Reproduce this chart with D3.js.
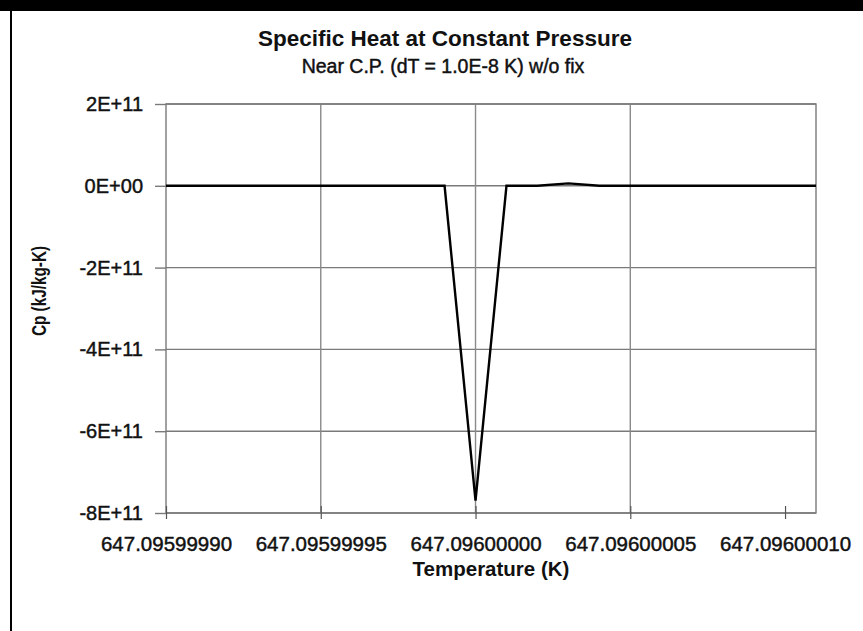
<!DOCTYPE html>
<html>
<head>
<meta charset="utf-8">
<script src="https://cdn.jsdelivr.net/npm/d3@7"></script>
<style>
  body { margin: 0; background: #fff; }
  text { font-family: Arial, "Liberation Sans", sans-serif; fill: #111; }
  .thick { stroke: #111; stroke-width: 0.45px; }
</style>
</head>
<body>
<div id="chart"></div>
<script>
// temperature (K), step dT = 1.0E-8 K
var temps = [647.09599990, 647.09599991, 647.09599992, 647.09599993, 647.09599994,
  647.09599995, 647.09599996, 647.09599997, 647.09599998, 647.09599999,
  647.09600000, 647.09600001, 647.09600002, 647.09600003, 647.09600004,
  647.09600005, 647.09600006, 647.09600007, 647.09600008, 647.09600009,
  647.09600010, 647.09600011];
// Cp (kJ/kg-K)
var cpValues = [0, 0, 0, 0, 0, 0, 0, 0, 0, 0,
  -7.7e11, 0, 0, 6e9, 0, 0, 0, 0, 0, 0, 0, 0];
var xTicks = [647.09599990, 647.09599995, 647.09600000, 647.09600005, 647.09600010];
var yTicks = [2e11, 0, -2e11, -4e11, -6e11, -8e11];
var yTickLabels = ["2E+11", "0E+00", "-2E+11", "-4E+11", "-6E+11", "-8E+11"];

var W = 863, H = 631;
var margin = { top: 104, bottom: 118, left: 166, right: 47 };

var svg = d3.select("#chart").append("svg")
  .attr("width", W)
  .attr("height", H);

// frame bits left over from the original screenshot
svg.append("rect").attr("x", 0).attr("y", 0).attr("width", W).attr("height", 11).attr("fill", "#000");
svg.append("rect").attr("x", 10).attr("y", 11).attr("width", 2).attr("height", H - 11).attr("fill", "#000");

var xScale = d3.scaleLinear()
  .domain([temps[0], temps[temps.length - 1]])
  .range([margin.left, W - margin.right]);
var yScale = d3.scaleLinear()
  .domain([-8e11, 2e11])
  .range([H - margin.bottom, margin.top]);

// horizontal gridlines
svg.append("g").attr("class", "grid-y")
  .selectAll("line").data(yTicks)
  .enter().append("line")
  .attr("x1", margin.left).attr("x2", W - margin.right)
  .attr("y1", function (d) { return yScale(d); })
  .attr("y2", function (d) { return yScale(d); })
  .attr("stroke", "#7a7a7a").attr("stroke-width", 1.4);

// vertical gridlines (none on the last tick, like the original)
svg.append("g").attr("class", "grid-x")
  .selectAll("line").data(xTicks.slice(1, xTicks.length - 1))
  .enter().append("line")
  .attr("x1", function (d) { return xScale(d); })
  .attr("x2", function (d) { return xScale(d); })
  .attr("y1", margin.top).attr("y2", H - margin.bottom)
  .attr("stroke", "#8a8a8a").attr("stroke-width", 1.4);

// plot border
svg.append("rect")
  .attr("x", margin.left).attr("y", margin.top)
  .attr("width", W - margin.right - margin.left)
  .attr("height", H - margin.bottom - margin.top)
  .attr("fill", "none").attr("stroke", "#7a7a7a").attr("stroke-width", 1.4);

// axes
var xAxis = svg.append("g")
  .attr("class", "axis axis-x")
  .attr("transform", "translate(0," + (H - margin.bottom) + ")")
  .call(d3.axisBottom(xScale).tickValues(xTicks).tickSizeInner(6).tickSizeOuter(0)
    .tickPadding(17).tickFormat(d3.format(".8f")));
xAxis.select(".domain").remove();
xAxis.selectAll(".tick line").attr("y1", -7).attr("stroke", "#555").attr("stroke-width", 1.2);
xAxis.selectAll("text").attr("class", "thick").style("font-size", "20.5px").attr("fill", "#111");

var yAxis = svg.append("g")
  .attr("class", "axis axis-y")
  .attr("transform", "translate(" + margin.left + ",0)")
  .call(d3.axisLeft(yScale).tickValues(yTicks).tickSizeInner(11).tickSizeOuter(0)
    .tickPadding(12).tickFormat(function (d, i) { return yTickLabels[i]; }));
yAxis.select(".domain").remove();
yAxis.selectAll(".tick line").attr("stroke", "#7a7a7a").attr("stroke-width", 1.4);
yAxis.selectAll("text").attr("class", "thick").style("font-size", "20px").attr("fill", "#111");

// data line
var line = d3.line()
  .x(function (d, i) { return xScale(temps[i]); })
  .y(function (d) { return yScale(d); });
svg.append("path")
  .datum(cpValues)
  .attr("d", line)
  .attr("fill", "none")
  .attr("stroke", "#000")
  .attr("stroke-width", 2.4)
  .attr("stroke-linejoin", "miter");

// titles
svg.append("text")
  .attr("x", 445).attr("y", 46)
  .attr("text-anchor", "middle")
  .style("font-size", "22.5px").style("font-weight", "bold")
  .text("Specific Heat at Constant Pressure");
svg.append("text")
  .attr("class", "thick")
  .attr("x", 443).attr("y", 73)
  .attr("text-anchor", "middle")
  .style("font-size", "19.5px")
  .text("Near C.P. (dT = 1.0E-8 K) w/o fix");
svg.append("text")
  .attr("x", (margin.left + W - margin.right) / 2).attr("y", 576)
  .attr("text-anchor", "middle")
  .style("font-size", "20.5px").style("font-weight", "bold")
  .text("Temperature (K)");
// y title is squeezed along its length in the original
svg.append("text")
  .attr("transform", "translate(46,291) rotate(-90) scale(0.73,1)")
  .attr("text-anchor", "middle")
  .style("font-size", "21px").style("font-weight", "bold")
  .text("Cp (kJ/kg-K)");
</script>
</body>
</html>
